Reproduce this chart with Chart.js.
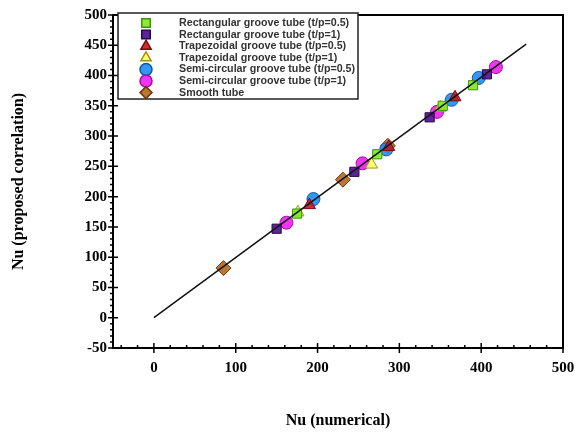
<!DOCTYPE html>
<html>
<head>
<meta charset="utf-8">
<script src="https://cdn.jsdelivr.net/npm/chart.js@4/dist/chart.umd.min.js"></script>
<style>
  html, body { margin: 0; padding: 0; background: #fff; }
  #wrap { width: 579px; height: 436px; }
</style>
</head>
<body>
<div id="wrap"><canvas id="chart" width="579" height="436"></canvas></div>
<script>
// series names, as in the legend
const seriesNames = [
    'Rectangular groove tube (t/p=0.5)',
    'Rectangular groove tube (t/p=1)',
    'Trapezoidal groove tube (t/p=0.5)',
    'Trapezoidal groove tube (t/p=1)',
    'Semi-circular groove tube (t/p=0.5)',
    'Semi-circular groove tube (t/p=1)',
    'Smooth tube'
];

// Nu numerical (x) and Nu correlation (y)
const rect05X = [175, 273, 353, 390];
const rect05Y = [172, 270, 350, 384];
const rect1X = [150, 245, 337, 407];
const rect1Y = [147, 241, 331, 402];
const trap05X = [190, 287, 368];
const trap05Y = [186, 282, 364];
const trap1X = [176, 266, 350];
const trap1Y = [174, 253, 347];
const semi05X = [195, 284, 364, 397];
const semi05Y = [196, 278, 360, 396];
const semi1X = [162, 255, 346, 418];
const semi1Y = [157, 255, 340, 414];
const smoothX = [85, 231, 286];
const smoothY = [82, 228, 284];

// y = x reference line ends
const lineX = [0, 455];
const lineY = [0, 452];

const xTicks = [0, 100, 200, 300, 400, 500];
const yTicks = [-50, 0, 50, 100, 150, 200, 250, 300, 350, 400, 450, 500];

function toPoints(xs, ys){
    return xs.map((x, i) => ({x: x, y: ys[i]}));
}

const styles = [
    {bg: 'rgba(128,232,30,0.9)', bd: '#3c9410', shape: 'rect', r: 6.5},
    {bg: 'rgba(75,12,140,0.9)', bd: '#2a0650', shape: 'rect', r: 6.5},
    {bg: 'rgba(200,22,30,0.9)', bd: '#7a0a0e', shape: 'triangle', r: 7},
    {bg: 'rgba(255,255,96,0.9)', bd: '#9a9a10', shape: 'triangle', r: 7},
    {bg: 'rgba(30,140,240,0.9)', bd: '#0b5aa8', shape: 'circle', r: 6.5},
    {bg: 'rgba(240,30,240,0.9)', bd: '#a010a0', shape: 'circle', r: 6.5},
    {bg: 'rgba(180,102,30,0.9)', bd: '#6e3a0a', shape: 'rectRot', r: 7.5}
];

const seriesX = [rect05X, rect1X, trap05X, trap1X, semi05X, semi1X, smoothX];
const seriesY = [rect05Y, rect1Y, trap05Y, trap1Y, semi05Y, semi1Y, smoothY];

const datasets = [{
    label: 'fit',
    type: 'line',
    data: toPoints(lineX, lineY),
    borderColor: '#111',
    borderWidth: 1.5,
    pointRadius: 0,
    fill: false
}];
seriesNames.forEach((name, i) => {
    datasets.push({
        label: name,
        data: toPoints(seriesX[i], seriesY[i]),
        backgroundColor: styles[i].bg,
        borderColor: styles[i].bd,
        borderWidth: 1,
        pointStyle: styles[i].shape,
        pointRadius: styles[i].r,
        pointHoverRadius: styles[i].r
    });
});

// frame, crossing ticks and minor ticks
const framePlugin = {
    id: 'frame',
    afterDraw(chart){
        const ctx = chart.ctx;
        const a = chart.chartArea;
        const xs = chart.scales.x, ys = chart.scales.y;
        ctx.save();
        ctx.strokeStyle = '#000';
        ctx.lineWidth = 2;
        ctx.strokeRect(a.left, a.top, a.right - a.left, a.bottom - a.top);
        ctx.lineWidth = 1.5;
        ctx.beginPath();
        for (let v = -40; v <= 500; v += 20){
            const p = xs.getPixelForValue(v);
            const major = v % 100 === 0;
            ctx.moveTo(p, a.bottom - (major ? 5 : 3));
            ctx.lineTo(p, a.bottom + (major ? 5 : 0));
        }
        for (let v = -50; v <= 500; v += 10){
            const p = ys.getPixelForValue(v);
            const major = v % 50 === 0;
            ctx.moveTo(a.left - (major ? 5 : 3), p);
            ctx.lineTo(a.left + (major ? 5 : 0), p);
        }
        ctx.stroke();
        ctx.restore();
    }
};

// boxed legend in the top-left corner
const legendPlugin = {
    id: 'boxLegend',
    afterDraw(chart){
        const ctx = chart.ctx;
        const left = 118, top = 13, w = 240, h = 86;
        ctx.save();
        ctx.fillStyle = '#fff';
        ctx.fillRect(left, top, w, h);
        ctx.strokeStyle = '#222';
        ctx.lineWidth = 1.5;
        ctx.strokeRect(left, top, w, h);
        ctx.font = 'bold 10.7px "Liberation Sans", Arial, sans-serif';
        ctx.textBaseline = 'middle';
        seriesNames.forEach((name, i) => {
            const y = top + 10 + i * 11.6;
            ctx.fillStyle = styles[i].bg;
            ctx.strokeStyle = styles[i].bd;
            Chart.helpers.drawPoint(ctx, {pointStyle: styles[i].shape, radius: 6, rotation: 0, borderWidth: 1}, 146, y);
            ctx.fillStyle = '#333';
            ctx.fillText(name, 179, y);
        });
        ctx.restore();
    }
};

const serif = '"Liberation Serif", "Times New Roman", serif';

new Chart(document.getElementById('chart'), {
    type: 'scatter',
    data: {datasets: datasets},
    options: {
        responsive: false,
        animation: false,
        layout: {padding: {left: 0, right: 16, top: 15, bottom: 0}},
        plugins: {legend: {display: false}, tooltip: {enabled: false}},
        scales: {
            x: {
                min: -50, max: 500,
                afterBuildTicks: s => { s.ticks = xTicks.map(v => ({value: v})); },
                afterFit: s => { s.height = 88; s.paddingLeft = 0; s.paddingRight = 0; },
                grid: {display: false, drawTicks: false},
                border: {display: false},
                ticks: {color: '#000', padding: 11, font: {family: serif, size: 15, weight: 'bold'}},
                title: {display: true, text: 'Nu (numerical)', color: '#000', padding: {top: 0, bottom: 6},
                        font: {family: serif, size: 16, weight: 'bold'}}
            },
            y: {
                min: -50, max: 500,
                afterBuildTicks: s => { s.ticks = yTicks.map(v => ({value: v})); },
                afterFit: s => { s.width = 113; s.paddingTop = 0; s.paddingBottom = 0; },
                grid: {display: false, drawTicks: false},
                border: {display: false},
                ticks: {color: '#000', padding: 6, font: {family: serif, size: 15, weight: 'bold'}},
                title: {display: true, text: 'Nu (proposed correlation)', color: '#000', padding: {top: 9, bottom: 0},
                        font: {family: serif, size: 16, weight: 'bold'}}
            }
        }
    },
    plugins: [framePlugin, legendPlugin]
});
</script>
</body>
</html>
